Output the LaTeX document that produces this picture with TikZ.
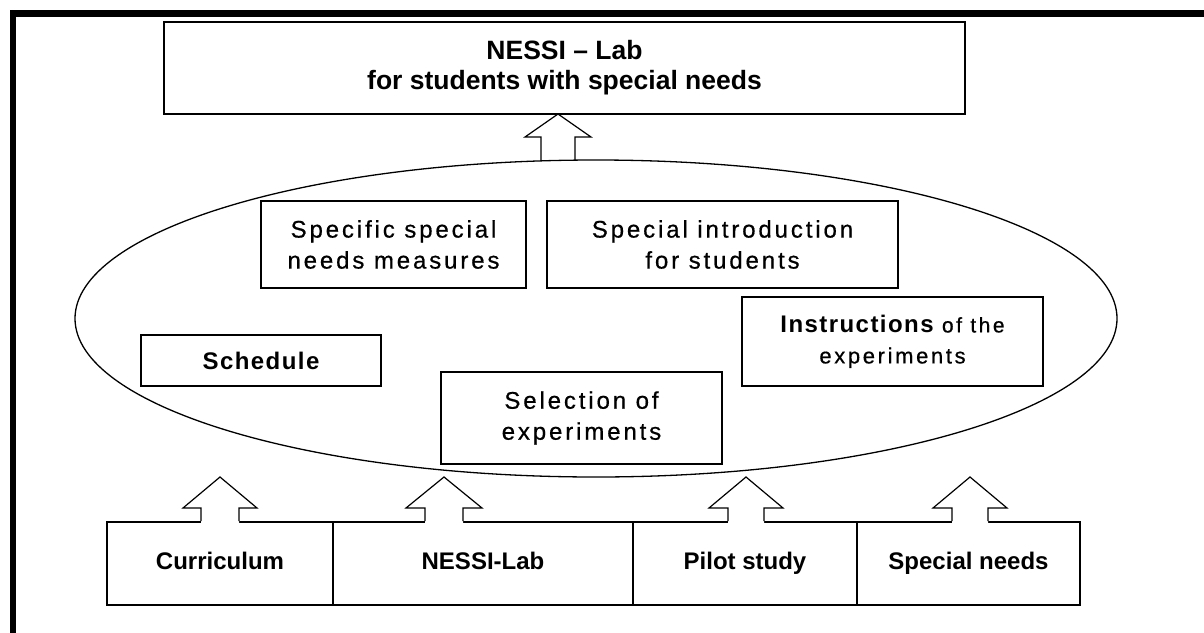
\documentclass[tikz,border=0pt]{standalone}
\usepackage{fontspec}
\setmainfont{Liberation Sans}
\newfontfamily\spacedfont[LetterSpace=12,FakeBold=0.6]{Liberation Sans}
\newfontfamily\spacedboldfont[LetterSpace=6]{Liberation Sans Bold}
\usetikzlibrary{shapes.geometric,calc}
\tikzset{
  box/.style={draw, line width=1.6pt, rectangle, inner sep=0pt, align=center, fill=white},
  regtext/.style={font=\spacedfont\fontsize{24}{31}\selectfont},
  boldtext/.style={font=\bfseries\fontsize{24}{31}\selectfont, text height=17pt, text depth=5pt},
  titletext/.style={font=\bfseries\fontsize{26.5}{32}\selectfont},
  arrowline/.style={line width=1.2pt, line join=miter},
  frameline/.style={line width=6.5pt, line join=miter},
}
\newcommand{\blockup}[6]{% #1 base, #2 tip, #3 shaft half, #4 head half, #5 head length, #6 fill extension
  \fill[white] ($(#1)+(-#3,#6)$) -- ($(#2)+(-#3,#5)$) -- ($(#2)+(-#4,#5)$) -- (#2) -- ($(#2)+(#4,#5)$) -- ($(#2)+(#3,#5)$) -- ($(#1)+(#3,#6)$) -- cycle;
  \draw[arrowline] ($(#1)+(-#3,0)$) -- ($(#2)+(-#3,#5)$) -- ($(#2)+(-#4,#5)$) -- (#2) -- ($(#2)+(#4,#5)$) -- ($(#2)+(#3,#5)$) -- ($(#1)+(#3,0)$);
}
\begin{document}
\begin{tikzpicture}[x=1pt,y=-1pt]
\useasboundingbox (0,0) rectangle (1204,632);
\fill[white] (0,0) rectangle (1204,632);
% frame
\draw[frameline] (13,640) -- (13,13.5) -- (1210,13.5);

% ellipse
\node[draw, ellipse, line width=1.3pt, minimum width=1042pt, minimum height=317pt, inner sep=0pt, outer sep=0pt] (ell) at (596,318.5) {};

% title
\node[box, titletext, minimum width=801pt, minimum height=92pt] (title) at (564.5,68) {NESSI -- Lab\\[-2pt]for students with special needs};

% inner boxes
\node[box, regtext, minimum width=265pt, minimum height=87pt] (spec) at (393.5,244.5) {Specific special\\needs measures};
\node[box, regtext, minimum width=351pt, minimum height=87pt] (intro) at (722.5,244.5) {Special introduction\\for students};
\node[box, regtext, minimum width=301pt, minimum height=89pt] (instr) at (892.5,341.5)
  {{\spacedboldfont\fontsize{24}{31}\selectfont Instructions}{\fontsize{21}{31}\selectfont\ of the}\\{\fontsize{22}{31}\selectfont experiments}};
\node[box, font=\spacedboldfont\fontsize{24}{31}\selectfont, minimum width=240pt, minimum height=51pt] (sched) at (261,360.5) {Schedule};
\node[box, regtext, minimum width=281pt, minimum height=92pt] (sel) at (581.5,418) {Selection of\\experiments};

% bottom row
\node[box, boldtext, minimum width=226pt, minimum height=83pt] (curr) at (220,563.5) {Curriculum};
\node[box, boldtext, minimum width=300pt, minimum height=83pt] (nlab) at (483,563.5) {NESSI-Lab};
\node[box, boldtext, minimum width=224pt, minimum height=83pt] (pilot) at (745,563.5) {Pilot study};
\node[box, boldtext, minimum width=223pt, minimum height=83pt] (spn) at (968.5,563.5) {Special needs};

% arrow tips
\coordinate (ttop) at (558,114);
\coordinate (tcurr) at (220,477);
\coordinate (tnlab) at (444,477);
\coordinate (tpilot) at (746,477);
\coordinate (tspn) at (970,477);
\coordinate (bcurr) at (tcurr |- curr.north);
\coordinate (bnlab) at (tnlab |- nlab.north);
\coordinate (bpilot) at (tpilot |- pilot.north);
\coordinate (bspn) at (tspn |- spn.north);
\coordinate (btop) at (ttop |- ell.north);

\blockup{btop}{ttop}{17}{33}{23}{-1}
\blockup{bcurr}{tcurr}{19}{37}{31}{2}
\blockup{bnlab}{tnlab}{19}{38}{31}{2}
\blockup{bpilot}{tpilot}{18}{37}{31}{2}
\blockup{bspn}{tspn}{18}{37}{31}{2}
\end{tikzpicture}
\end{document}
